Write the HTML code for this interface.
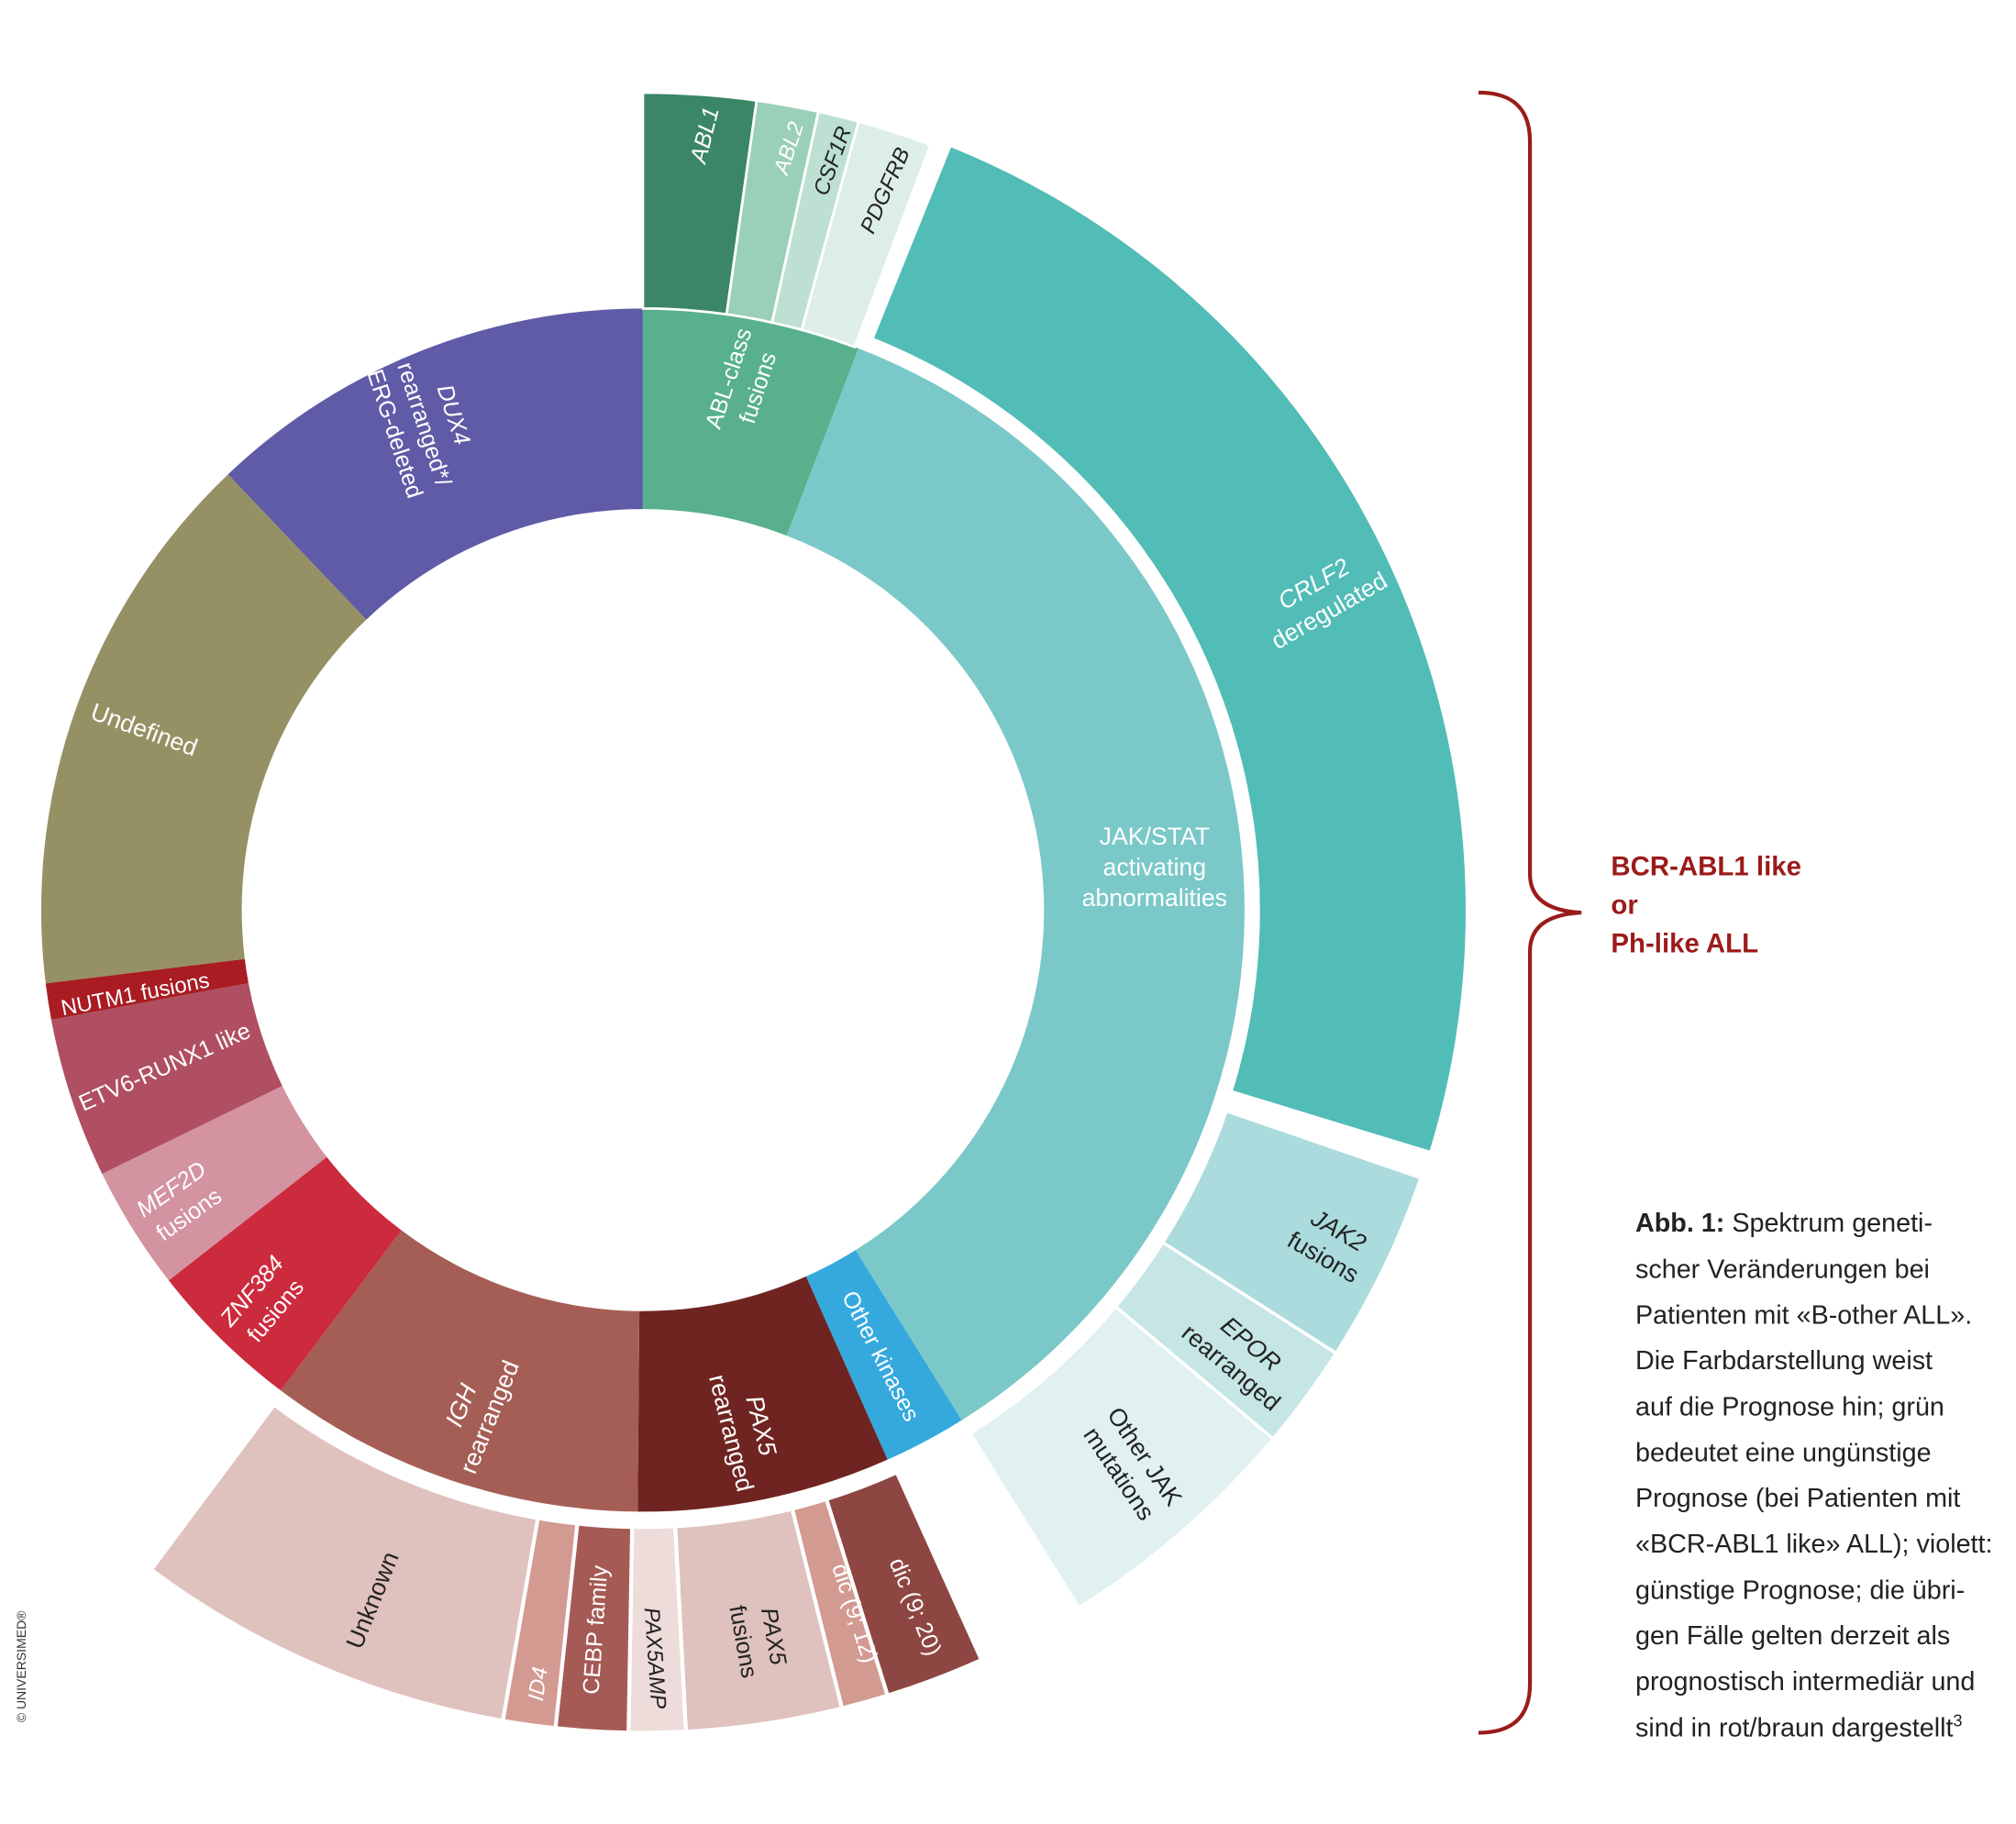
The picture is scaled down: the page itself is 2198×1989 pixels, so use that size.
<!DOCTYPE html>
<html><head><meta charset="utf-8"><style>
html,body{margin:0;padding:0;background:#fff;}
svg{display:block;}
text{font-family:"Liberation Sans",sans-serif;}
</style></head><body>
<svg id="chart" width="2198" height="1989" viewBox="0 0 1568 1419" xmlns="http://www.w3.org/2000/svg">
<g id="rings"></g>
<g id="labels"></g>
<path d="M1150,72 Q1190,72 1190,110 L1190,680 Q1190,708 1230,710 Q1190,712 1190,740 L1190,1310 Q1190,1348 1150,1348" fill="none" stroke="#9b1b1b" stroke-width="3"/>
<g font-weight="bold" font-size="21" fill="#9b1b1b">
<text x="1253" y="681">BCR-ABL1 like</text>
<text x="1253" y="711">or</text>
<text x="1253" y="741">Ph-like ALL</text>
</g>
<g font-size="20.5" fill="#222">
<text x="1272" y="958"><tspan font-weight="bold">Abb. 1:</tspan> Spektrum geneti-</text>
<text x="1272" y="994">scher Veränderungen bei</text>
<text x="1272" y="1030">Patienten mit «B-other ALL».</text>
<text x="1272" y="1065">Die Farbdarstellung weist</text>
<text x="1272" y="1101">auf die Prognose hin; grün</text>
<text x="1272" y="1137">bedeutet eine ungünstige</text>
<text x="1272" y="1172">Prognose (bei Patienten mit</text>
<text x="1272" y="1208">«BCR-ABL1 like» ALL); violett:</text>
<text x="1272" y="1244">günstige Prognose; die übri-</text>
<text x="1272" y="1279">gen Fälle gelten derzeit als</text>
<text x="1272" y="1315">prognostisch intermediär und</text>
<text x="1272" y="1351">sind in rot/braun dargestellt<tspan font-size="13" dy="-8">3</tspan></text>
</g>
<text transform="translate(20,1340) rotate(-90)" font-size="10" fill="#333">© UNIVERSIMED®</text>
</svg>
<script>
const cx=500, cy=708;
// inner ring
const innerNames=["DUX4","ABL-class fusions","JAK/STAT","Other kinases","PAX5 rearranged","IGH rearranged","ZNF384 fusions","MEF2D fusions","ETV6-RUNX1 like","NUTM1 fusions","Undefined"];
const innerValues=[43.6,21,127,8,24.5,36.5,15,12,15.5,3.5,53.4];
const innerColors=["#5f5ba6","#58b08c","#7bc8c9","#35a9de","#6f2421","#a55e55","#cc2b3d","#d393a0","#b04f62","#a81c22","#959164"];
const innerStart=-43.6;
// outer groups
const ablNames=["ABL1","ABL2","CSF1R","PDGFRB"];
const ablValues=[8,4.4,2.9,5.3];
const ablColors=["#3a8666","#9acfb8","#bde0d2","#ddeee8"];
const crlfNames=["CRLF2 deregulated"];
const crlfValues=[85];
const crlfColors=["#52bcb7"];
const jakNames=["JAK2 fusions","EPOR rearranged","Other JAK mutations"];
const jakValues=[13.6,7.4,18];
const jakColors=["#abdbdc","#c6e5e5","#e1f1f2"];
const botNames=["dic(9;20)","dic(9;12)","PAX5 fusions","PAX5AMP","CEBP family","ID4","Unknown"];
const botValues=[7,3.3,11,4,5.1,3.7,26.9];
const botColors=["#8d4641","#d39a92","#dfc1bd","#eedcdb","#a65a55","#d39a92","#dfc1bd"];

function pt(a,r){const t=(a-90)*Math.PI/180;return [cx+r*Math.cos(t),cy+r*Math.sin(t)];}
function sector(a0,a1,r0,r1){
  const l=(a1-a0)>180?1:0;
  const p1=pt(a0,r1),p2=pt(a1,r1),p3=pt(a1,r0),p4=pt(a0,r0);
  return `M${p1[0]},${p1[1]} A${r1},${r1} 0 ${l} 1 ${p2[0]},${p2[1]} L${p3[0]},${p3[1]} A${r0},${r0} 0 ${l} 0 ${p4[0]},${p4[1]} Z`;
}
const g=document.getElementById('rings');
function ring(names,values,colors,start,r0,r1,sw){
  let a=start;
  for(let i=0;i<values.length;i++){
    const p=document.createElementNS('http://www.w3.org/2000/svg','path');
    p.setAttribute('d',sector(a,a+values[i],r0,r1));
    p.setAttribute('fill',colors[i]);
    p.setAttribute('stroke','#fff');
    p.setAttribute('stroke-width',sw);
    
    
    g.appendChild(p);
    a+=values[i];
  }
}
ring(innerNames,innerValues,innerColors,innerStart,312,468,0);
ring(ablNames,ablValues,ablColors,0,468,636,2);
ring(crlfNames,crlfValues,crlfColors,22,480,640,0);
ring(jakNames,jakValues,jakColors,109,480,640,2.5);
ring(botNames,botValues,botColors,155.7,480,640,3);

const L=document.getElementById('labels');
function lab(name,lines,x,y,rot,col,size,italic,anchor){
  const t=document.createElementNS('http://www.w3.org/2000/svg','text');
  
  
  t.setAttribute('transform',`translate(${x},${y}) rotate(${rot})`);
  t.setAttribute('fill',col);
  t.setAttribute('font-size',size||19);
  t.setAttribute('text-anchor',anchor||'middle');
  lines.forEach((s,i)=>{
    const ts=document.createElementNS('http://www.w3.org/2000/svg','tspan');
    ts.setAttribute('x',0);
    ts.setAttribute('y',(i-(lines.length-1)/2)*24+6);
    if(italic&&i===0) ts.setAttribute('font-style','italic');
    ts.textContent=s;
    t.appendChild(ts);
  });
  L.appendChild(t);
}
const W="#fff",D="#222";
lab('label-abl1',['ABL1'],548,105,-76,W,18,true);
lab('label-abl2',['ABL2'],613,115,-72,W,17,true);
lab('label-csf1r',['CSF1R'],647,125,-70,D,17,true);
lab('label-pdgfrb',['PDGFRB'],688,148,-66,D,17,true);
lab('label-abl-class',['ABL-class','fusions'],578,298,-72,W,18);
lab('label-dux4',['DUX4','rearranged*/','ERG-deleted'],330,330,72,W,18,true);
lab('label-undefined',['Undefined'],112,568,20,W,19);
lab('label-nutm1',['NUTM1 fusions'],105,773,-11,W,17);
lab('label-etv6',['ETV6-RUNX1 like'],128,830,-24,W,18);
lab('label-mef2d',['MEF2D','fusions'],140,935,-35,W,18,true);
lab('label-znf384',['ZNF384','fusions'],205,1012,-50,W,18,true);
lab('label-igh',['IGH','rearranged'],370,1098,-68,W,19,true);
lab('label-pax5-rearr',['PAX5','rearranged'],580,1112,76,W,19,true);
lab('label-other-kinases',['Other kinases'],685,1055,63,W,18);
lab('label-jakstat',['JAK/STAT','activating','abnormalities'],898,675,0,W,19);
lab('label-crlf2',['CRLF2','deregulated'],1028,465,-30,W,19,true);
lab('label-jak2',['JAK2','fusions'],1035,968,30,D,19,true);
lab('label-epor',['EPOR','rearranged'],965,1055,40,D,19,true);
lab('label-other-jak',['Other JAK','mutations'],880,1140,56,D,19);
lab('label-unknown',['Unknown'],290,1245,-68,D,19);
lab('label-id4',['ID4'],418,1310,-82,W,17,true);
lab('label-cebp',['CEBP family'],463,1268,-86,W,18);
lab('label-pax5amp',['PAX5AMP'],510,1290,86,D,17,true);
lab('label-pax5-fusions',['PAX5','fusions'],590,1275,80,D,18,true);
lab('label-dic912',['dic (9; 12)'],665,1255,72,W,18);
lab('label-dic920',['dic (9; 20)'],712,1250,68,W,18);
</script>
</body></html>
